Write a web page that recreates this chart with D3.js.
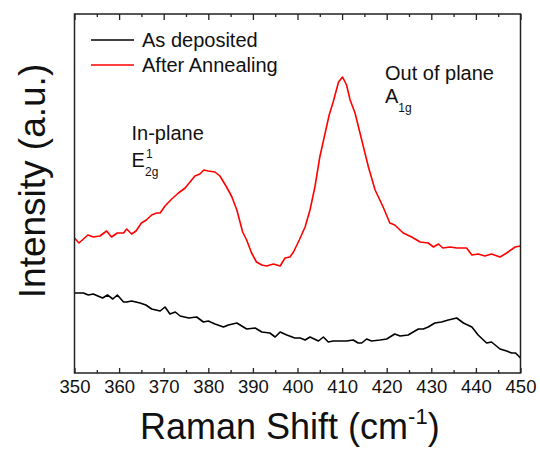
<!DOCTYPE html>
<html>
<head>
<meta charset="utf-8">
<script src="https://cdn.jsdelivr.net/npm/d3@7"></script>
<style>
  html, body { margin: 0; padding: 0; background: #fff; }
  svg { display: block; font-family: "Liberation Sans", Arial, sans-serif; }
</style>
</head>
<body>
<svg id="chart" width="540" height="452"></svg>
<script>
// ---- data ----
const xTicks = [350, 360, 370, 380, 390, 400, 410, 420, 430, 440, 450];
const seriesNames = ["As deposited", "After Annealing"];
const seriesColors = ["#000000", "#ff0000"];

const annealedShift = [350, 351, 353, 354.2, 355.7, 357.2, 358.3, 359.6, 361, 361.7, 362.8, 363.8, 365, 366.1, 367.3, 368.4, 369.2, 370.3, 371.8, 373.3, 374.8, 375.9, 377, 378.1, 379, 380, 381.5, 382.6, 384.1, 385.3, 386.4, 387.7, 388.6, 389.7, 390.8, 392, 393.1, 394.6, 396.1, 397.2, 398.3, 399.1, 400.4, 401.7, 402.8, 403.9, 405, 406.2, 407.1, 408, 409.2, 410.1, 411, 411.8, 412.9, 414.4, 415.9, 417.4, 419.2, 420.7, 421.8, 423.7, 425.6, 427.5, 429.3, 430.5, 431.6, 432.6, 434.2, 435.7, 437.9, 439.1, 440.5, 442, 443.5, 445.4, 446.9, 448.8, 450];
const afterAnnealing = [135, 130, 138, 136, 137, 142, 136, 140, 140, 144, 139, 142, 150, 153, 158, 160, 160, 167, 174, 180, 185, 191, 197, 199, 203, 202, 201, 197, 186, 176, 163, 141, 133, 120, 111, 108, 107, 109, 107, 115, 116, 121, 133, 146, 163, 186, 216, 240, 258, 271, 291, 296, 288, 273, 260, 233, 206, 183, 166, 150, 148, 140, 136, 131, 130, 126, 129, 125, 126, 125, 125, 118, 119, 117, 119, 116, 120, 126, 127];

const depositedShift = [350, 352, 353.1, 354.2, 356.3, 357.4, 358.6, 359.6, 361, 361.7, 362.8, 364.7, 366, 367.3, 369.2, 370.3, 371.4, 372.6, 373.7, 375.6, 377.4, 378.9, 380, 381.5, 383.4, 384.5, 386.4, 388.6, 390.5, 392, 393.8, 395, 396.1, 397.6, 399.4, 400.6, 401.7, 402.8, 404.7, 405.8, 406.9, 408, 411, 412.5, 413.6, 414.4, 415.5, 416.6, 418.5, 420, 421.8, 423, 424.8, 427.1, 428.2, 429.3, 430.8, 432.3, 433.8, 435.7, 437.2, 439.1, 440.5, 442.4, 443.5, 445.4, 446.9, 448, 448.9, 450];
const asDeposited = [80, 80, 78, 79, 75, 78, 74, 78, 71, 71, 72, 70, 68, 64, 62, 66, 59, 61, 57, 55, 56, 51, 52, 49, 46, 48, 50, 44, 45, 41, 40, 36, 41, 38, 35, 35, 33, 36, 32, 36, 31, 32, 32, 33, 30, 30, 34, 32, 33, 34, 39, 37, 38, 44, 44, 46, 50, 51, 53, 55, 50, 46, 38, 30, 31, 24, 22, 20, 20, 15];

// ---- layout ----
const svg = d3.select("#chart");
const L = 74.5, R = 520.5, T = 14, B = 373;

const x = d3.scaleLinear().domain([350, 450]).range([L, R]);
const y = d3.scaleLinear().domain([0, 359]).range([B, T]);

const minor = d3.range(355, 450, 10);

// bottom axis (ticks inward)
const gB = svg.append("g").attr("transform", `translate(0,${B})`)
  .call(d3.axisBottom(x).tickValues(xTicks).tickFormat(d3.format("d")).tickSizeInner(-5).tickSizeOuter(0).tickPadding(7));
gB.select(".domain").remove();
gB.selectAll("text").attr("font-size", 18.5).attr("fill", "#111").attr("font-family", "Liberation Sans, Arial, sans-serif");
gB.selectAll("line").attr("stroke", "#222").attr("stroke-width", 1.3);
svg.append("g").attr("transform", `translate(0,${B})`)
  .call(d3.axisBottom(x).tickValues(minor).tickFormat("").tickSizeInner(-3).tickSizeOuter(0))
  .call(g => g.select(".domain").remove())
  .selectAll("line").attr("stroke", "#222").attr("stroke-width", 1.3);

// top axis (ticks inward, no labels)
svg.append("g").attr("transform", `translate(0,${T})`)
  .call(d3.axisTop(x).tickValues(xTicks).tickFormat("").tickSizeInner(-6).tickSizeOuter(0))
  .call(g => g.select(".domain").remove())
  .selectAll("line").attr("stroke", "#222").attr("stroke-width", 1.3);
svg.append("g").attr("transform", `translate(0,${T})`)
  .call(d3.axisTop(x).tickValues(minor).tickFormat("").tickSizeInner(-3).tickSizeOuter(0))
  .call(g => g.select(".domain").remove())
  .selectAll("line").attr("stroke", "#222").attr("stroke-width", 1.3);

// lines
const line = d3.line().x(d => x(d[0])).y(d => y(d[1]));
svg.append("path")
  .datum(depositedShift.map((v, i) => [v, asDeposited[i]]))
  .attr("d", line).attr("fill", "none").attr("stroke", seriesColors[0]).attr("stroke-width", 1.6).attr("stroke-linejoin", "round");
svg.append("path")
  .datum(annealedShift.map((v, i) => [v, afterAnnealing[i]]))
  .attr("d", line).attr("fill", "none").attr("stroke", seriesColors[1]).attr("stroke-width", 1.6).attr("stroke-linejoin", "round");

// frame
svg.append("rect").attr("x", L).attr("y", T).attr("width", R - L).attr("height", B - T)
  .attr("fill", "none").attr("stroke", "#222").attr("stroke-width", 1.5);

// legend
seriesNames.forEach((name, i) => {
  const ly = 40 + i * 25;
  svg.append("line").attr("x1", 91).attr("x2", 134).attr("y1", ly).attr("y2", ly)
    .attr("stroke", seriesColors[i]).attr("stroke-width", 1.6);
  svg.append("text").attr("x", 142).attr("y", ly + 7).attr("font-size", 20).attr("fill", "#111").text(name);
});

// annotations
svg.append("text").attr("x", 385).attr("y", 80).attr("font-size", 20).attr("fill", "#111").text("Out of plane");
const a1 = svg.append("text").attr("x", 385).attr("y", 103).attr("font-size", 20).attr("fill", "#111");
a1.append("tspan").text("A");
a1.append("tspan").attr("font-size", 12).attr("dy", 9).text("1g");

svg.append("text").attr("x", 131.5).attr("y", 140).attr("font-size", 20).attr("fill", "#111").text("In-plane");
svg.append("text").attr("x", 131.5).attr("y", 167).attr("font-size", 20).attr("fill", "#111").text("E");
svg.append("text").attr("x", 146).attr("y", 158).attr("font-size", 12).attr("fill", "#111").text("1");
svg.append("text").attr("x", 145).attr("y", 176).attr("font-size", 12).attr("fill", "#111").text("2g");

// axis titles
const xt = svg.append("text").attr("x", 140).attr("y", 439).attr("text-anchor", "start")
  .attr("font-size", 36).attr("fill", "#111");
xt.append("tspan").text("Raman Shift (cm");
xt.append("tspan").attr("font-size", 22).attr("dy", -15).text("-1");
xt.append("tspan").attr("dy", 15).text(")");

svg.append("text").attr("transform", `translate(45,181) rotate(-90)`)
  .attr("text-anchor", "middle").attr("font-size", 37).attr("fill", "#111").text("Intensity (a.u.)");
</script>
</body>
</html>
